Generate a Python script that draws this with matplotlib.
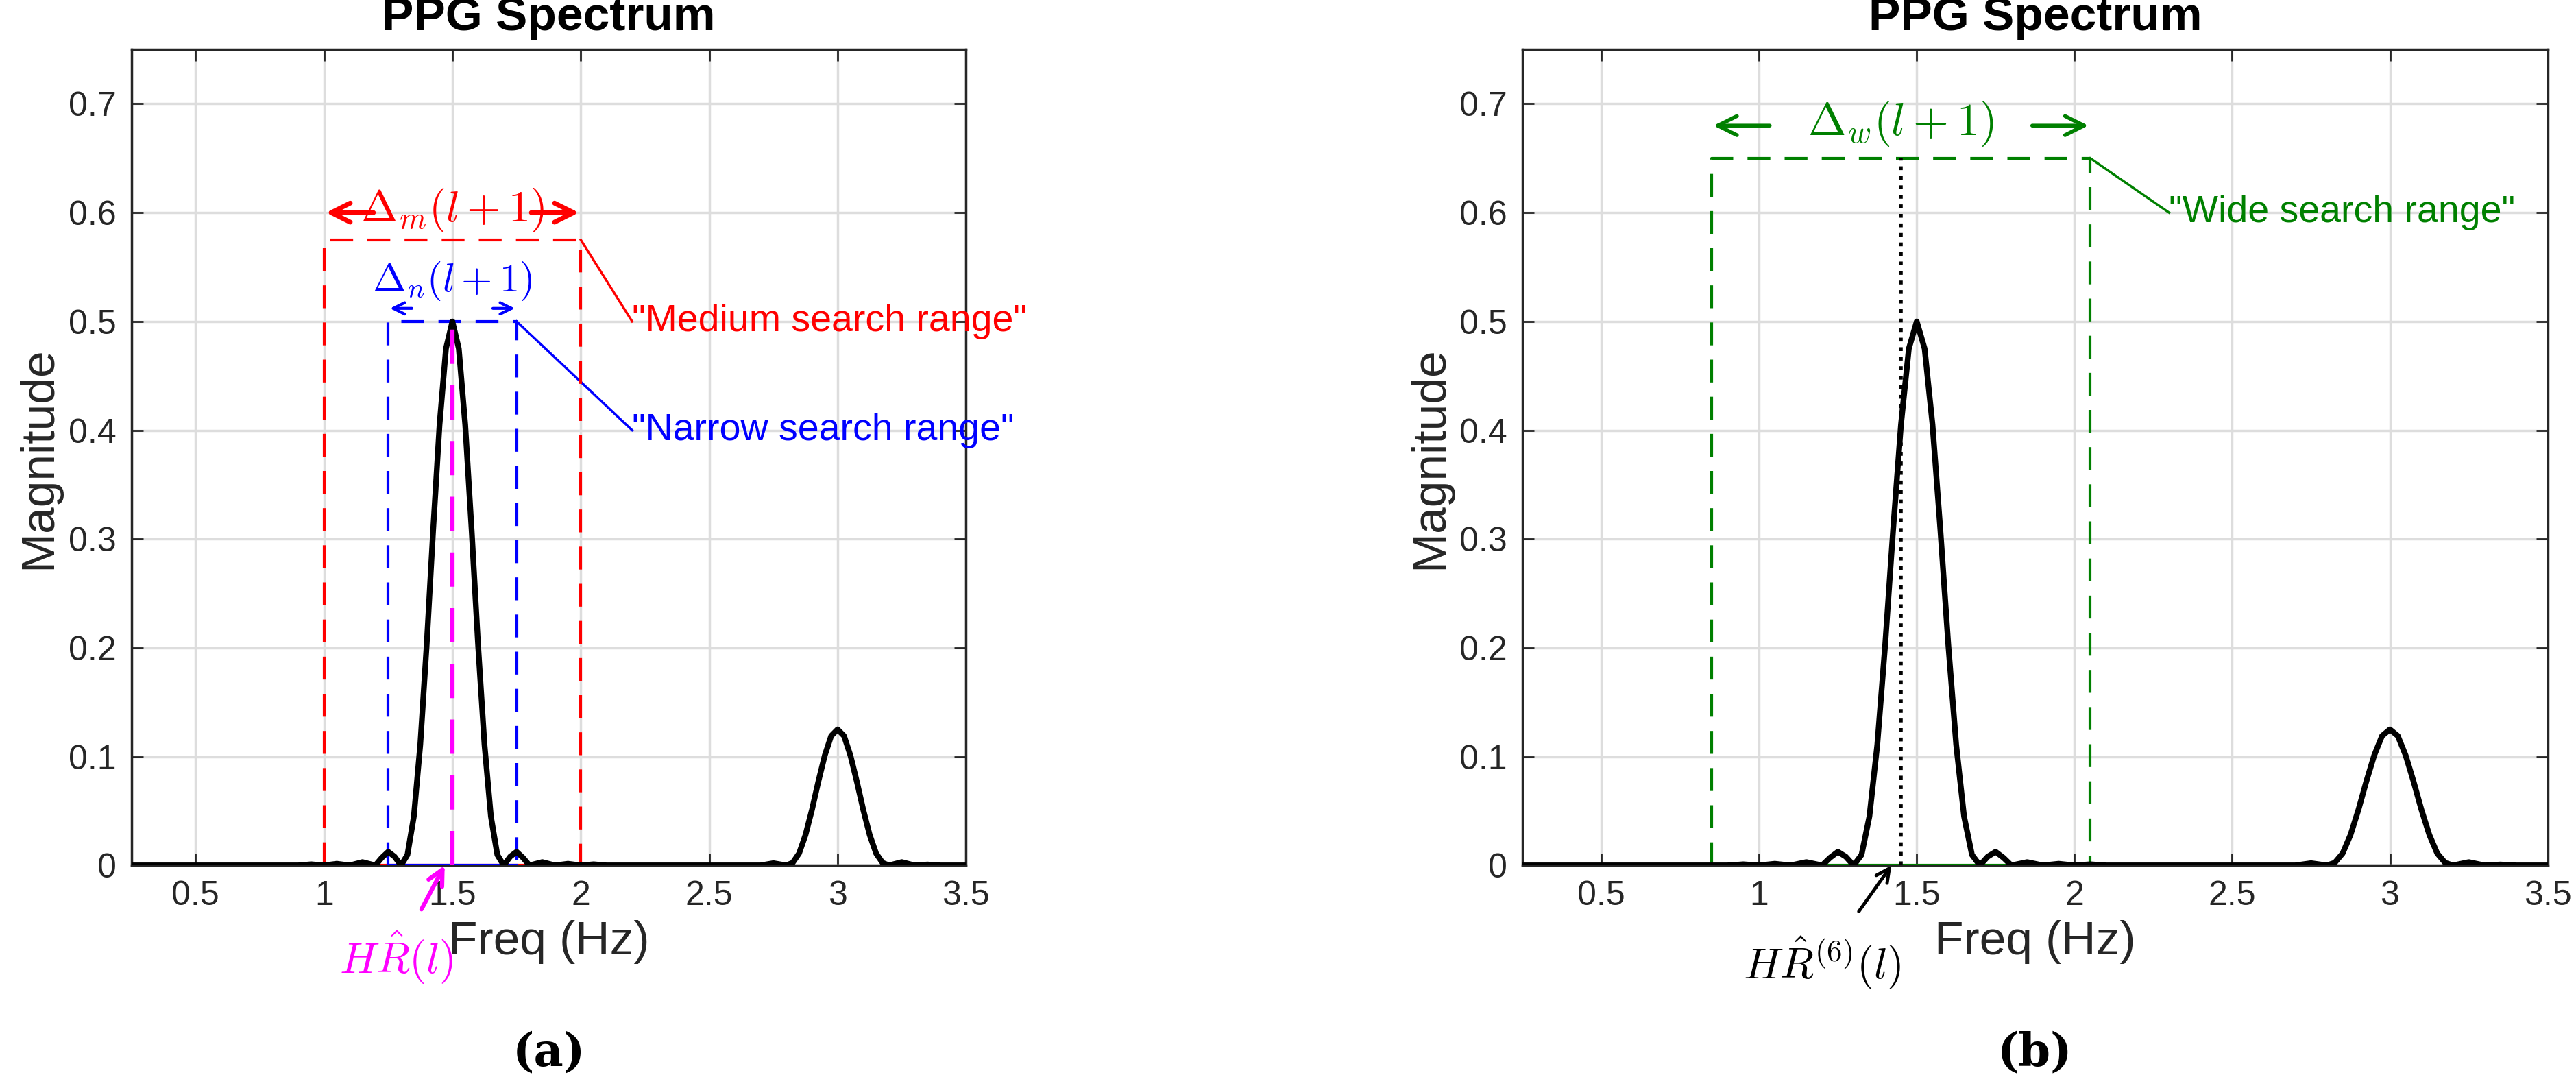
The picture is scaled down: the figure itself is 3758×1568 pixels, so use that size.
import matplotlib
matplotlib.use("Agg")
import matplotlib.pyplot as plt

plt.rcParams['font.family'] = ['Liberation Sans', 'DejaVu Sans']
plt.rcParams['mathtext.fontset'] = 'cm'

freq = [0.25, 0.9, 0.95, 1.0, 1.05, 1.1, 1.15, 1.2, 1.225, 1.25, 1.275, 1.3,
        1.325, 1.35, 1.375, 1.4, 1.425, 1.45, 1.475, 1.5,
        1.525, 1.55, 1.575, 1.6, 1.625, 1.65, 1.675, 1.7,
        1.725, 1.75, 1.775, 1.8, 1.85, 1.9, 1.95, 2.0, 2.05, 2.1, 2.7, 2.75, 2.8,
        2.825, 2.85, 2.875, 2.9, 2.925, 2.95, 2.975, 3.0,
        3.025, 3.05, 3.075, 3.1, 3.125, 3.15, 3.175, 3.2,
        3.25, 3.3, 3.35, 3.4, 3.5]
mag = [0.0, 0.0, 0.001, 0.0, 0.0015, 0.0, 0.003, 0.0, 0.007, 0.0125, 0.008, 0.0,
       0.0097, 0.045, 0.111, 0.203, 0.308, 0.405, 0.475, 0.5,
       0.475, 0.405, 0.308, 0.203, 0.111, 0.045, 0.0097, 0.0,
       0.008, 0.0125, 0.007, 0.0, 0.003, 0.0, 0.0015, 0.0, 0.001, 0.0, 0.0, 0.002, 0.0,
       0.0024, 0.011, 0.028, 0.051, 0.077, 0.101, 0.119, 0.125,
       0.119, 0.101, 0.077, 0.051, 0.028, 0.011, 0.0024, 0.0,
       0.003, 0.0, 0.0008, 0.0, 0.0]
xticks = [0.5, 1, 1.5, 2, 2.5, 3, 3.5]
xticklabels = ['0.5', '1', '1.5', '2', '2.5', '3', '3.5']
yticks = [0, 0.1, 0.2, 0.3, 0.4, 0.5, 0.6, 0.7]
yticklabels = ['0', '0.1', '0.2', '0.3', '0.4', '0.5', '0.6', '0.7']

medium = (1.0, 2.0, 0.575)
narrow = (1.25, 1.75, 0.5)
wide = (0.85, 2.05, 0.65)
hr_a = 1.5
hr_b = 1.45

fig = plt.figure(figsize=(37.58, 15.68), dpi=100)
axA = fig.add_axes([0.051, 0.195, 0.324, 0.759])
axB = fig.add_axes([0.591, 0.195, 0.398, 0.759])

def base(ax, label):
    ax.plot(freq, mag, color='black', lw=6, zorder=5)
    ax.set_xlim(0.25, 3.5)
    ax.set_ylim(0, 0.75)
    ax.set_xticks(xticks)
    ax.set_xticklabels(xticklabels)
    ax.set_yticks(yticks)
    ax.set_yticklabels(yticklabels)
    ax.tick_params(direction='in', length=12, width=2, labelsize=36, top=True, right=True, pad=16,
                   colors='#262626')
    ax.grid(True, color='#dddddd', lw=2.5)
    ax.set_axisbelow(True)
    for s in ax.spines.values():
        s.set_linewidth(2.5)
        s.set_color('#262626')
    ax.set_title('PPG Spectrum', fontsize=50, fontweight='bold', pad=20)
    ax.set_xlabel('Freq (Hz)', fontsize=50, color='#262626', labelpad=8)
    ax.set_ylabel('Magnitude', fontsize=50, color='#262626', labelpad=8)
    ax.text(0.5, -0.23, label, transform=ax.transAxes, ha='center', va='center',
            fontsize=48, fontweight='bold', family='DejaVu Serif')

def rect(ax, r, color, lw):
    x0, x1, top = r
    ax.plot([x0, x0, x1, x1], [0, top, top, 0], color=color, lw=lw, dashes=(8, 5), zorder=4)
    ax.plot([x0, x1], [0, 0], color=color, lw=lw, zorder=3)

base(axA, '(a)')
rect(axA, medium, 'red', 3)
rect(axA, narrow, 'blue', 3)
axA.plot([hr_a, hr_a], [0, 0.5], color='magenta', lw=4.5, dashes=(8, 5), zorder=6)
ap = dict(arrowstyle='->', lw=5, mutation_scale=50)
axA.annotate('', xy=(medium[0], 0.6), xytext=(1.2, 0.6), arrowprops=dict(ap, color='red'))
axA.annotate('', xy=(medium[1], 0.6), xytext=(1.8, 0.6), arrowprops=dict(ap, color='red'))
axA.text(1.5, 0.602, r'$\Delta_m(l+1)$', color='red', fontsize=46, ha='center', va='center')
apb = dict(arrowstyle='->', lw=3, mutation_scale=30, color='blue')
axA.annotate('', xy=(narrow[0], 0.512), xytext=(1.35, 0.512), arrowprops=apb)
axA.annotate('', xy=(narrow[1], 0.512), xytext=(1.65, 0.512), arrowprops=apb)
axA.text(1.5, 0.537, r'$\Delta_n(l+1)$', color='blue', fontsize=42, ha='center', va='center')
axA.plot([medium[1], 2.2], [medium[2], 0.5], color='red', lw=2.5)
axA.text(2.2, 0.5, '"Medium search range"', color='red', fontsize=40, va='center')
axA.plot([narrow[1], 2.2], [narrow[2], 0.4], color='blue', lw=2.5)
axA.text(2.2, 0.4, '"Narrow search range"', color='blue', fontsize=40, va='center')
axA.annotate(r'$H\hat{R}(l)$', xy=(1.47, 0.0), xytext=(1.28, -0.085),
             annotation_clip=False, color='magenta', fontsize=46, ha='center', va='center',
             arrowprops=dict(arrowstyle='->', lw=4.5, mutation_scale=40, color='magenta',
                             shrinkA=22, shrinkB=0))

base(axB, '(b)')
rect(axB, wide, 'green', 3)
axB.plot([hr_b, hr_b], [0, wide[2]], color='black', lw=4, ls=(0, (1, 1.5)), zorder=6)
apg = dict(arrowstyle='->', lw=4, mutation_scale=50, color='green')
axB.annotate('', xy=(wide[0], 0.68), xytext=(1.04, 0.68), arrowprops=apg)
axB.annotate('', xy=(wide[1], 0.68), xytext=(1.86, 0.68), arrowprops=apg)
axB.text(1.45, 0.682, r'$\Delta_w(l+1)$', color='green', fontsize=48, ha='center', va='center')
axB.plot([wide[1], 2.3], [wide[2], 0.6], color='green', lw=2.5)
axB.text(2.3, 0.6, '"Wide search range"', color='green', fontsize=40, va='center')
axB.annotate(r'$H\hat{R}^{(6)}(l)$', xy=(1.42, 0.0), xytext=(1.2, -0.09),
             annotation_clip=False, color='black', fontsize=46, ha='center', va='center',
             arrowprops=dict(arrowstyle='->', lw=3.5, mutation_scale=35, color='black',
                             shrinkA=28, shrinkB=0))

fig.savefig('out.png', dpi=100)
